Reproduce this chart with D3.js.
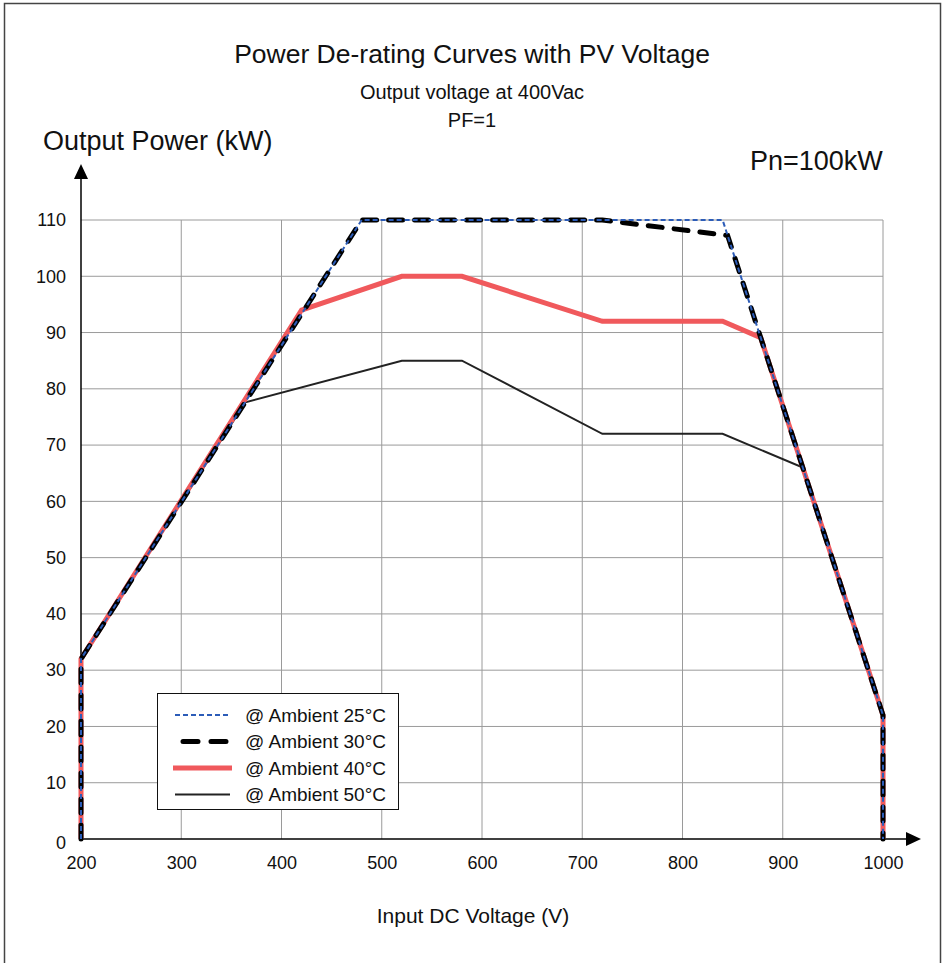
<!DOCTYPE html>
<html>
<head>
<meta charset="utf-8">
<script src="https://cdn.jsdelivr.net/npm/d3@7"></script>
<style>
  html, body { margin: 0; padding: 0; background: #fff; }
  svg { display: block; font-family: "Liberation Sans", Arial, sans-serif; }
</style>
</head>
<body>
<svg id="chart" width="945" height="963"></svg>
<script>
// Axis ticks
const xTicks = [200, 300, 400, 500, 600, 700, 800, 900, 1000];
const yTicks = [0, 10, 20, 30, 40, 50, 60, 70, 80, 90, 100, 110];

// De-rating curves: [input DC voltage (V), output power (kW)]
const amb25 = [[200, 0], [200, 32], [480, 110], [840, 110], [1000, 22], [1000, 0]];
const amb30 = [[200, 0], [200, 32], [480, 110], [720, 110], [845, 107.25], [1000, 22], [1000, 0]];
const amb40 = [[200, 0], [200, 32], [420, 94], [520, 100], [580, 100], [720, 92], [840, 92], [878, 89.1], [1000, 22], [1000, 0]];
const amb50 = [[200, 0], [200, 32], [364, 77.6], [520, 85], [580, 85], [720, 72], [840, 72], [920, 66], [1000, 22], [1000, 0]];

const seriesNames = ["@ Ambient 25°C", "@ Ambient 30°C", "@ Ambient 40°C", "@ Ambient 50°C"];

const FONT = "Liberation Sans, Arial, sans-serif";
const svg = d3.select("#chart");

// outer frame
svg.append("rect")
  .attr("x", 4.5).attr("y", 3.5)
  .attr("width", 936).attr("height", 970)
  .attr("fill", "none").attr("stroke", "#444").attr("stroke-width", 1.5);

const x = d3.scaleLinear().domain([200, 1000]).range([81, 883]);
const y = d3.scaleLinear().domain([0, 110]).range([839, 220]);

// grid
const grid = svg.append("g");
grid.selectAll("line.h").data(yTicks.filter(d => d > 0)).join("line")
  .attr("x1", x(200)).attr("x2", x(1000))
  .attr("y1", d => y(d)).attr("y2", d => y(d))
  .attr("stroke", "#9a9a9a").attr("stroke-width", 1);
grid.selectAll("line.v").data(xTicks.filter(d => d > 200)).join("line")
  .attr("x1", d => x(d)).attr("x2", d => x(d))
  .attr("y1", y(0)).attr("y2", y(110))
  .attr("stroke", "#9a9a9a").attr("stroke-width", 1);

// axes with tick labels
const xAxis = d3.axisBottom(x).tickValues(xTicks).tickFormat(d3.format("d")).tickSize(0).tickPadding(17);
const gx = svg.append("g").attr("transform", `translate(0,${y(0)})`).call(xAxis)
  .attr("font-size", 18).attr("font-family", FONT);
gx.select(".domain").remove();
gx.selectAll("text").attr("fill", "#111");

const yAxis = d3.axisLeft(y).tickValues(yTicks).tickFormat(d3.format("d")).tickSize(0).tickPadding(15);
const gy = svg.append("g").attr("transform", `translate(${x(200)},0)`).call(yAxis)
  .attr("font-size", 18).attr("font-family", FONT);
gy.select(".domain").remove();
gy.selectAll("text").attr("fill", "#111");
gy.selectAll(".tick").filter(d => d === 0).select("text").attr("dy", "0.55em");

// axis lines with arrows
svg.append("line").attr("x1", x(200)).attr("x2", 908).attr("y1", y(0)).attr("y2", y(0))
  .attr("stroke", "#000").attr("stroke-width", 1.5);
svg.append("path").attr("d", `M921,${y(0)} L906,${y(0) - 7} L906,${y(0) + 7} Z`).attr("fill", "#000");
svg.append("line").attr("x1", x(200)).attr("x2", x(200)).attr("y1", y(0)).attr("y2", 178)
  .attr("stroke", "#000").attr("stroke-width", 1.5);
svg.append("path").attr("d", `M${x(200)},164 L${x(200) - 7},179 L${x(200) + 7},179 Z`).attr("fill", "#000");

// curves
const line = d3.line().x(d => x(d[0])).y(d => y(d[1]));
const styles = [
  { data: amb50, stroke: "#222222", width: 2, dash: null, cap: "butt" },
  { data: amb40, stroke: "#f0595c", width: 5, dash: null, cap: "butt" },
  { data: amb30, stroke: "#000000", width: 5, dash: "14,12", cap: "round" },
  { data: amb25, stroke: "#2c5cb8", width: 2, dash: "5,3", cap: "butt" }
];
svg.append("g").selectAll("path").data(styles).join("path")
  .attr("d", d => line(d.data))
  .attr("fill", "none")
  .attr("stroke", d => d.stroke)
  .attr("stroke-width", d => d.width)
  .attr("stroke-dasharray", d => d.dash)
  .attr("stroke-linecap", d => d.cap)
  .attr("stroke-linejoin", "miter");

// legend
const lg = svg.append("g");
lg.append("rect").attr("x", 157.5).attr("y", 693.5).attr("width", 241).attr("height", 116)
  .attr("fill", "#fff").attr("stroke", "#111").attr("stroke-width", 1);
const legendOrder = [styles[3], styles[2], styles[1], styles[0]];
const rows = lg.selectAll("g.row").data(legendOrder).join("g")
  .attr("transform", (d, i) => `translate(0,${715 + i * 26.5})`);
rows.append("line")
  .attr("x1", (d, i) => i === 1 ? 183 : (i === 2 ? 173 : 175))
  .attr("x2", (d, i) => i === 1 ? 226 : (i === 2 ? 232 : 230))
  .attr("stroke", d => d.stroke)
  .attr("stroke-width", d => d.width === 5 ? 5 : 2)
  .attr("stroke-dasharray", (d, i) => i === 0 ? "5,3" : (i === 1 ? "15,13" : null))
  .attr("stroke-linecap", d => d.cap);
rows.append("text").attr("x", 245).attr("y", 0).attr("dy", "0.35em")
  .attr("font-size", 19).attr("font-family", FONT).attr("fill", "#111")
  .text((d, i) => seriesNames[i]);

// titles
const txt = (s, xx, yy, size, anchor) => svg.append("text")
  .attr("x", xx).attr("y", yy).attr("font-size", size).attr("font-family", FONT)
  .attr("text-anchor", anchor || "start").attr("fill", "#111").text(s);
txt("Power De-rating Curves with PV Voltage", 472, 63, 26.5, "middle");
txt("Output voltage at 400Vac", 472, 99, 20, "middle");
txt("PF=1", 472, 127, 20, "middle");
txt("Output Power (kW)", 43, 150, 27);
txt("Pn=100kW", 750, 170, 27);
txt("Input DC Voltage (V)", 473, 923, 21, "middle");
</script>
</body>
</html>
